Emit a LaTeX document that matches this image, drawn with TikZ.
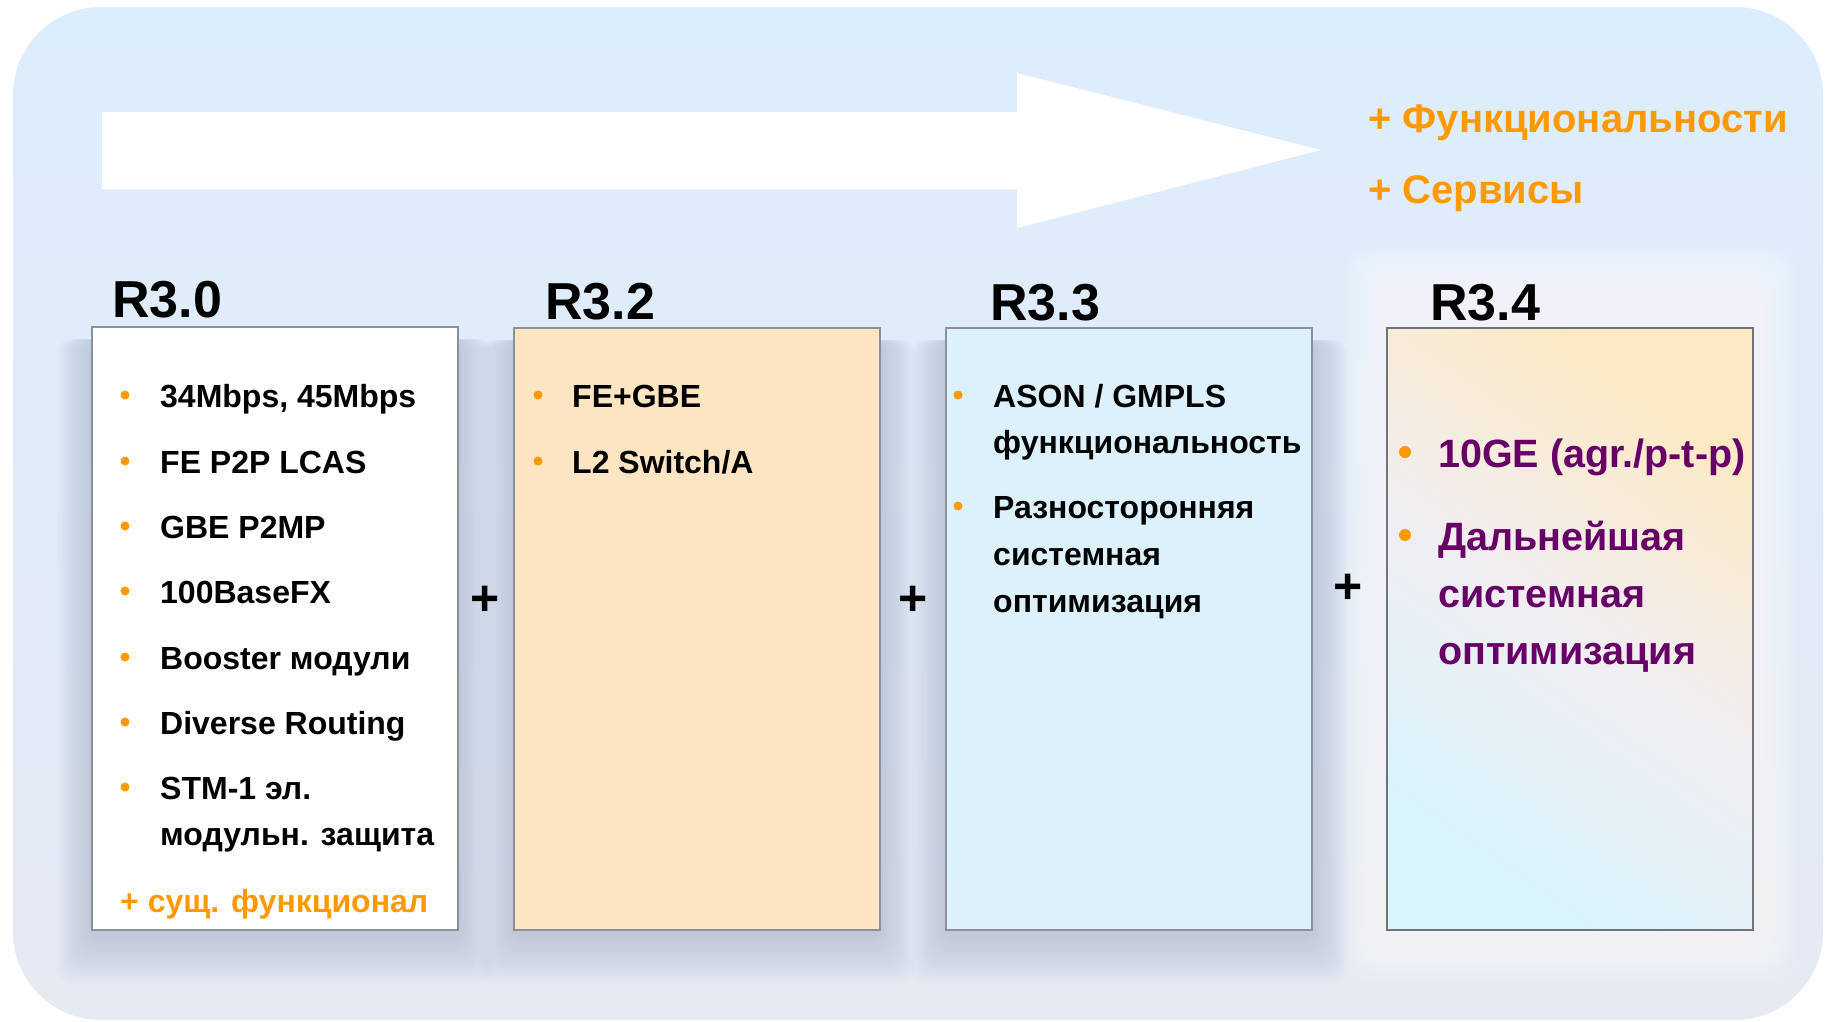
\documentclass[tikz,border=0pt]{standalone}
\usepackage{fontspec}
\setmainfont{Liberation Sans}
\definecolor{bgtop}{HTML}{DCEDFD}
\definecolor{bgbot}{HTML}{E6EAF3}
\definecolor{orng}{HTML}{FF9900}
\definecolor{purp}{HTML}{660066}
\definecolor{peach}{HTML}{FDE5C4}
\definecolor{ltcyan}{HTML}{DDF1FD}
\definecolor{boxline}{HTML}{8C9099}
\definecolor{shad}{HTML}{6A7490}
\definecolor{gtop}{HTML}{FDE9C2}
\definecolor{gmid}{HTML}{F1EEF2}
\definecolor{gbot}{HTML}{D8F4FC}
\tikzset{
 rel/.style={anchor=base west, inner sep=0pt, font=\bfseries\fontsize{52}{52}\selectfont},
 item/.style={anchor=base west, inner sep=0pt, font=\bfseries\fontsize{32}{32}\selectfont},
 bigitem/.style={anchor=base west, inner sep=0pt, text=purp, font=\bfseries\fontsize{39.5}{39.5}\selectfont},
 toptext/.style={anchor=base west, inner sep=0pt, text=orng, font=\bfseries\fontsize{40}{40}\selectfont},
 dot/.style={circle, fill=orng, inner sep=0pt, minimum size=9pt},
 bigdot/.style={circle, fill=orng, inner sep=0pt, minimum size=12pt},
 card/.style={draw=boxline, line width=2.5pt},
 plussign/.style={font=\bfseries\fontsize{50}{50}\selectfont, inner sep=0pt},
}
\newcommand\cardshadow[4]{%
 \foreach \i in {1,...,14}{
  \fill[shad, opacity=0.02, rounded corners=14pt] (#1-\i*2.5, #2+12) rectangle (#3+\i*2.5, #4+4+\i*3.5);
 }}
\newcommand\cardglow[4]{%
 \foreach \i in {1,...,18}{
  \fill[white, opacity=0.07, rounded corners=24pt] (#1-\i*2.4, #2-\i*2.4) rectangle (#3+\i*2.4, #4+\i*2.8);
 }}
\begin{document}
\begin{tikzpicture}[x=1pt,y=-1pt]
\useasboundingbox (0,0) rectangle (1832,1021);
% background panel
\shade[rounded corners=88pt, top color=bgtop, bottom color=bgbot] (13,7) rectangle (1823,1020);
% big arrow
\fill[white] (102,112) -- (1017,112) -- (1017,73) -- (1321,150) -- (1017,228) -- (1017,189) -- (102,189) -- cycle;
% top right texts
\node[toptext] (f1) at (1368,132) {+ Функциональности};
\node[toptext] (f2) at (1368,203) {+ Сервисы};
% shadows and glow
\cardshadow{92}{327}{458}{930}
\cardshadow{514}{328}{880}{930}
\cardshadow{946}{328}{1312}{930}
\cardglow{1387}{290}{1753}{930}
% cards
\fill[white] (92,327) rectangle (458,930);
\draw[card] (92,327) rectangle (458,930);
\fill[peach] (514,328) rectangle (880,930);
\draw[card] (514,328) rectangle (880,930);
\fill[ltcyan] (946,328) rectangle (1312,930);
\draw[card] (946,328) rectangle (1312,930);
\shade[top color=gtop, bottom color=gbot, middle color=gmid, shading angle=-35] (1387,328) rectangle (1753,930);
\draw[card, draw=boxline!80!black] (1387,328) rectangle (1753,930);
% release labels
\node[rel] (r30) at (112,317) {R3.0};
\node[rel] (r32) at (545,319) {R3.2};
\node[rel] (r33) at (990,320) {R3.3};
\node[rel] (r34) at (1430,320) {R3.4};
% R3.0 items
\foreach \y/\t [count=\k] in {407/{34Mbps, 45Mbps},473/{FE P2P LCAS},538/{GBE P2MP},603/{100BaseFX},669/{Booster модули},734/{Diverse Routing},799/{STM-1 эл.}}{
  \node[dot] (a\k) at (125,\y-12) {};
  \node[item] (at\k) at (160,\y) {\t};
}
\node[item] (at8) at (160,845) {модульн. защита};
\node[item, text=orng] (sus) at (120,912) {+ сущ. функционал};
% R3.2 items
\node[dot] (b1) at (538,395) {};
\node[item] (bt1) at (572,407) {FE+GBE};
\node[dot] (b2) at (538,461) {};
\node[item] (bt2) at (572,473) {L2 Switch/A};
% R3.3 items
\node[dot] (c1) at (958,395) {};
\node[item] (ct1) at (993,407) {ASON / GMPLS};
\node[item] (ct2) at (993,453) {функциональность};
\node[dot] (c2) at (958,506) {};
\node[item] (ct3) at (993,518) {Разносторонняя};
\node[item] (ct4) at (993,565) {системная};
\node[item] (ct5) at (993,612) {оптимизация};
% R3.4 items
\node[bigdot] (d1) at (1405,452) {};
\node[bigitem] (dt1) at (1438,467) {10GE (agr./p-t-p)};
\node[bigdot] (d2) at (1405,535) {};
\node[bigitem] (dt2) at (1438,550) {Дальнейшая};
\node[bigitem] (dt3) at (1438,607) {системная};
\node[bigitem] (dt4) at (1438,664) {оптимизация};
% plus signs
\node[plussign] (p1) at (485,601) {+};
\node[plussign] (p2) at (913,601) {+};
\node[plussign] (p3) at (1348,589) {+};
\end{tikzpicture}
\end{document}
